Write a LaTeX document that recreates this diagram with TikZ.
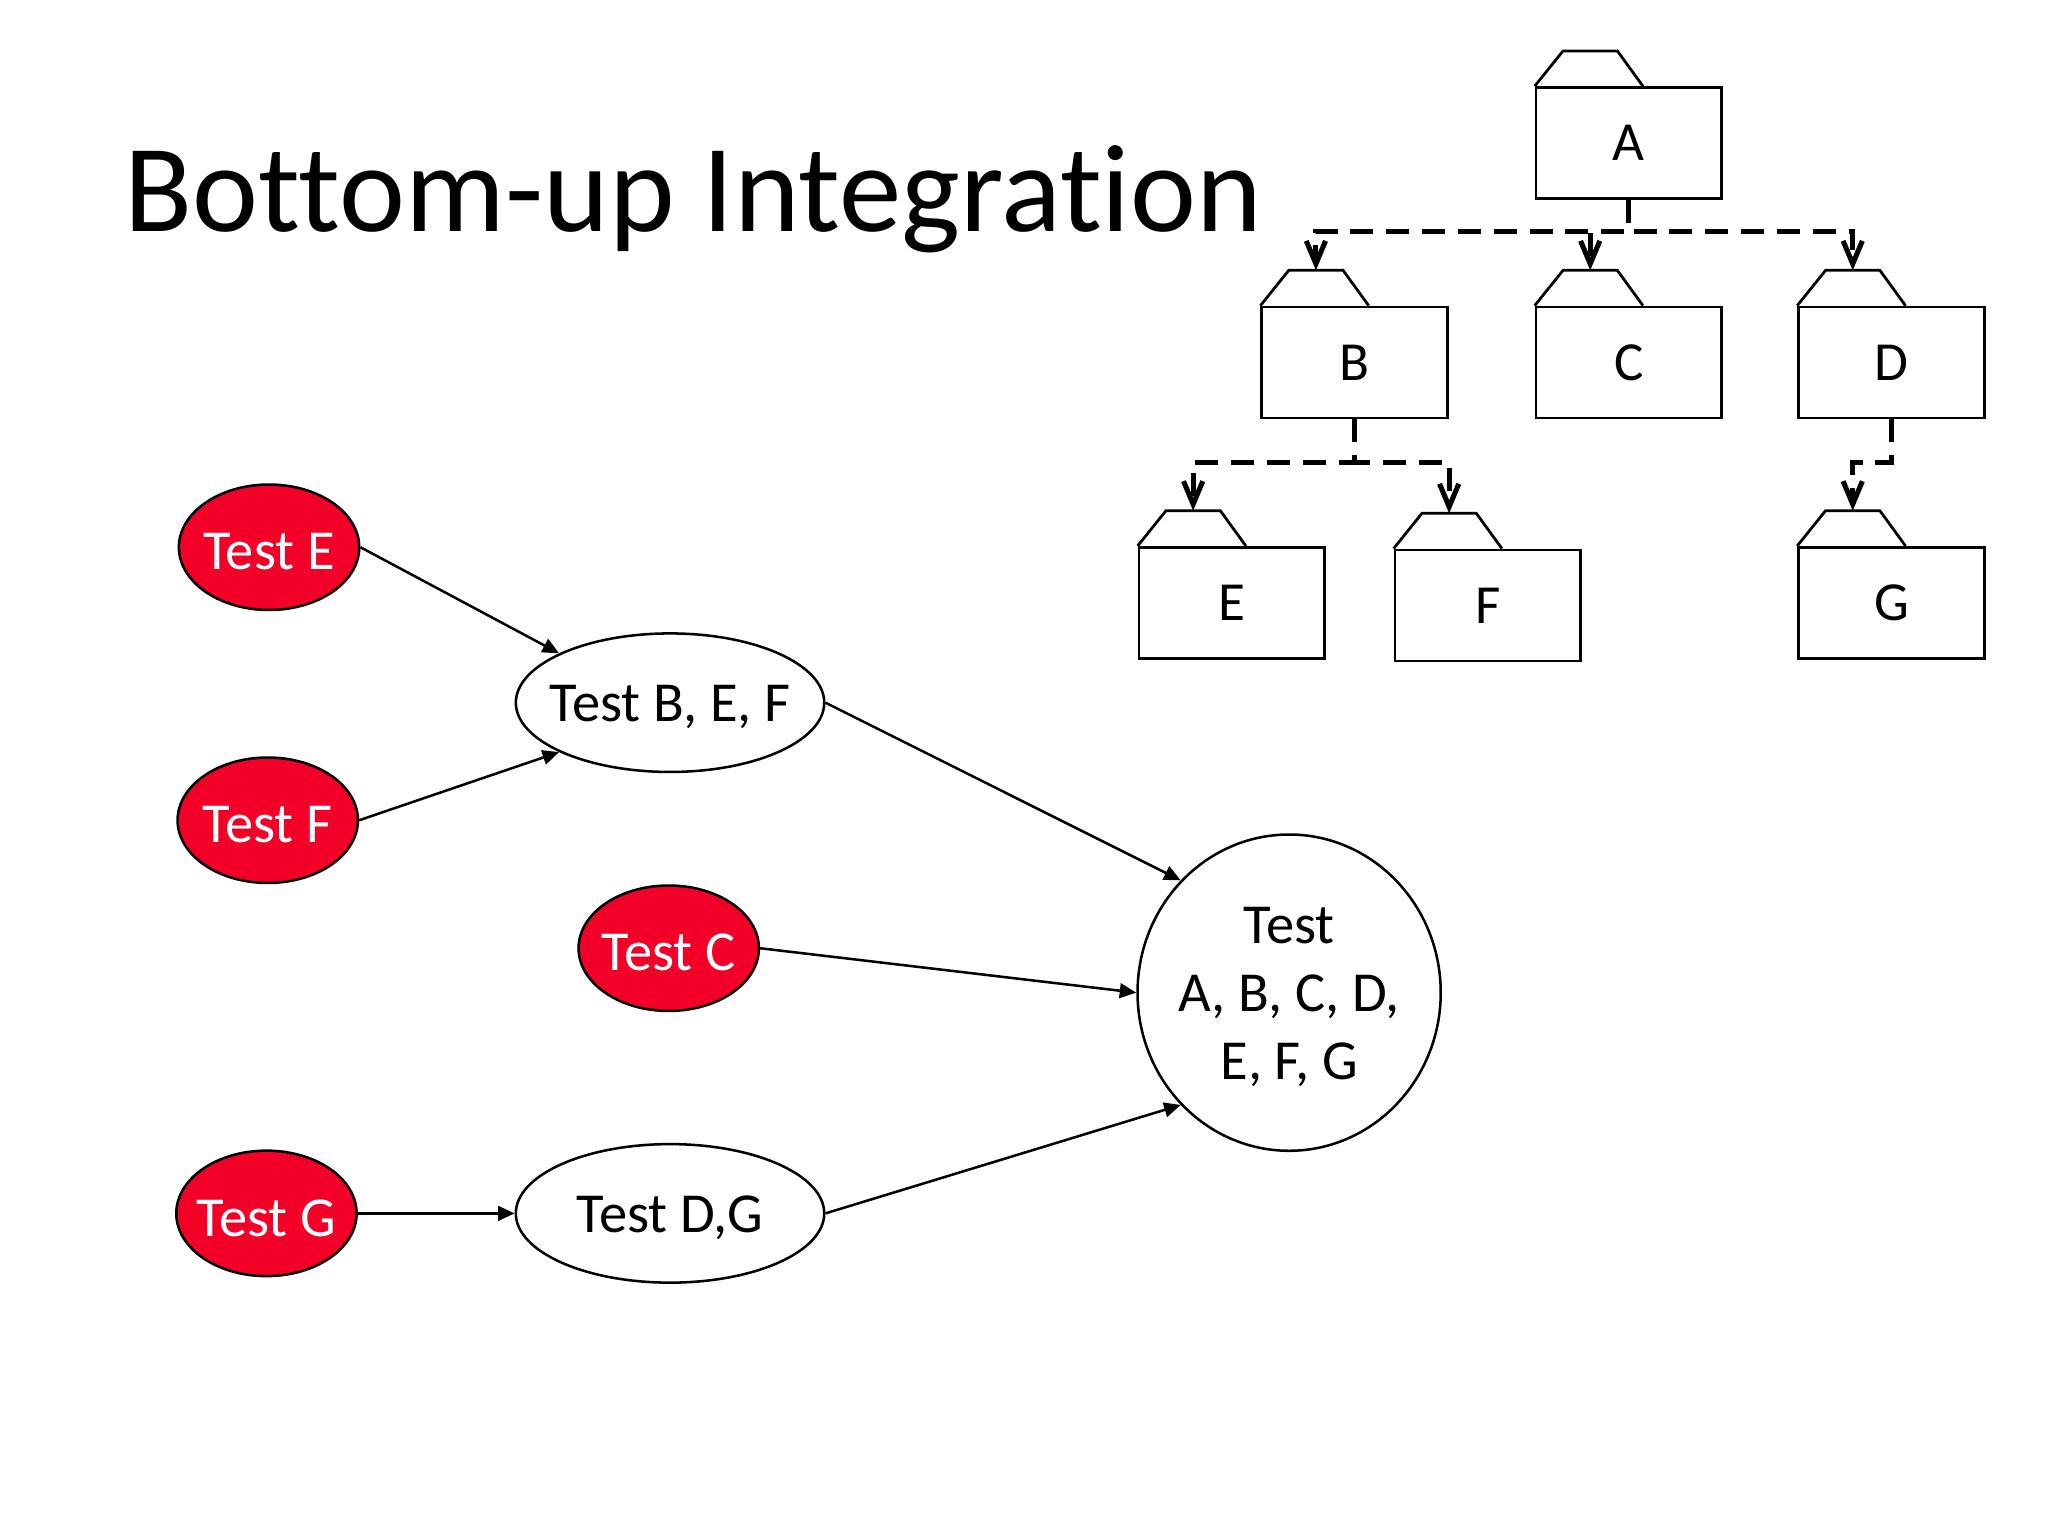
\documentclass[tikz,border=0pt]{standalone}
\usepackage{fontspec}
\setmainfont{Carlito}[Ligatures=NoCommon]
\usetikzlibrary{shapes.geometric,arrows.meta,calc}
\definecolor{testred}{RGB}{242,0,40}
\begin{document}
\begin{tikzpicture}[x=0.01cm,y=-0.01cm,
  fbody/.style={draw, line width=0.6pt, rectangle, minimum width=1.42cm, minimum height=0.85cm, inner sep=0pt, font=\fontsize{12}{14}\selectfont},
  fline/.style={line width=0.6pt, line join=miter},
  dep/.style={line width=1.1pt, dash pattern=on 5pt off 2.8pt, -{Straight Barb[length=5pt,width=4.2pt]}},
  flow/.style={line width=0.55pt, -{Triangle[length=3.6pt,width=3.2pt]}},
  lbl/.style={font=\fontsize{12.3}{14.8}\selectfont, align=center, yshift=-0.35mm},
  redtest/.style={ellipse, draw, line width=0.55pt, fill=testred, minimum width=1.38cm, minimum height=0.96cm, inner sep=0pt},
  wtest/.style={ellipse, draw, line width=0.55pt, minimum width=2.36cm, minimum height=1.06cm, inner sep=0pt},
  bigtest/.style={ellipse, draw, line width=0.55pt, minimum width=2.32cm, minimum height=2.42cm, inner sep=0pt}
]
\useasboundingbox (0,0) rectangle (1568,1176);

\newcommand\mkfolder[4]{%
  \node[fbody, anchor=north west] (#1) at (#2,#3) {#4};
  \draw[fline] (#1.north west) -- ++(21.7,-27) -- ++(41.6,0) -- ++(19.6,27);
  \coordinate (#1tab) at ($(#1.north west)+(42.5,-27)$);
}

% title
\node[anchor=base west, font=\fontsize{27.2}{33}\selectfont, inner sep=0pt] (title) at (95,177.5) {Bottom-up Integration};

% folders
\mkfolder{A}{1175}{66}{A}
\mkfolder{B}{965}{234}{B}
\mkfolder{C}{1175}{234}{C}
\mkfolder{D}{1376}{234}{D}
\mkfolder{E}{871}{418}{E}
\mkfolder{F}{1067}{420}{F}
\mkfolder{G}{1376}{418}{G}

\coordinate (hA) at (1246,177);
\coordinate (hB) at (1036,354);
\draw[dep] (A.south) -- (A.south |- hA) -| (Btab);
\draw[dep] (A.south) -- (A.south |- hA) -| (Ctab);
\draw[dep] (A.south) -- (A.south |- hA) -| (Dtab);
\draw[dep] (B.south) -- (B.south |- hB) -| (Etab);
\draw[dep] (B.south) -- (B.south |- hB) -| (Ftab);
\draw[dep] (D.south) -- (D.south |- hB) -| (Gtab);

% test nodes
\node[redtest, label={[lbl, text=white]center:{Test E}}] (tE) at (206,419) {};
\node[redtest, label={[lbl, text=white]center:{Test F}}] (tF) at (205,628) {};
\node[redtest, label={[lbl, text=white]center:{Test C}}] (tC) at (512,726) {};
\node[redtest, label={[lbl, text=white]center:{Test G}}] (tG) at (204,929) {};
\node[wtest, label={[lbl]center:{Test B, E, F}}] (tBEF) at (513,538) {};
\node[wtest, label={[lbl]center:{Test D,G}}] (tDG) at (513,929) {};
\node[bigtest, label={[lbl]center:{Test\\A, B, C, D,\\E, F, G}}] (tAll) at (987,760) {};

\draw[flow] (tE.east) -- (tBEF.156);
\draw[flow] (tF.east) -- (tBEF.204);
\draw[flow] (tBEF.east) -- (tAll.134);
\draw[flow] (tC.east) -- (tAll.west);
\draw[flow] (tDG.east) -- (tAll.226);
\draw[flow] (tG.east) -- (tDG.west);
\end{tikzpicture}
\end{document}
